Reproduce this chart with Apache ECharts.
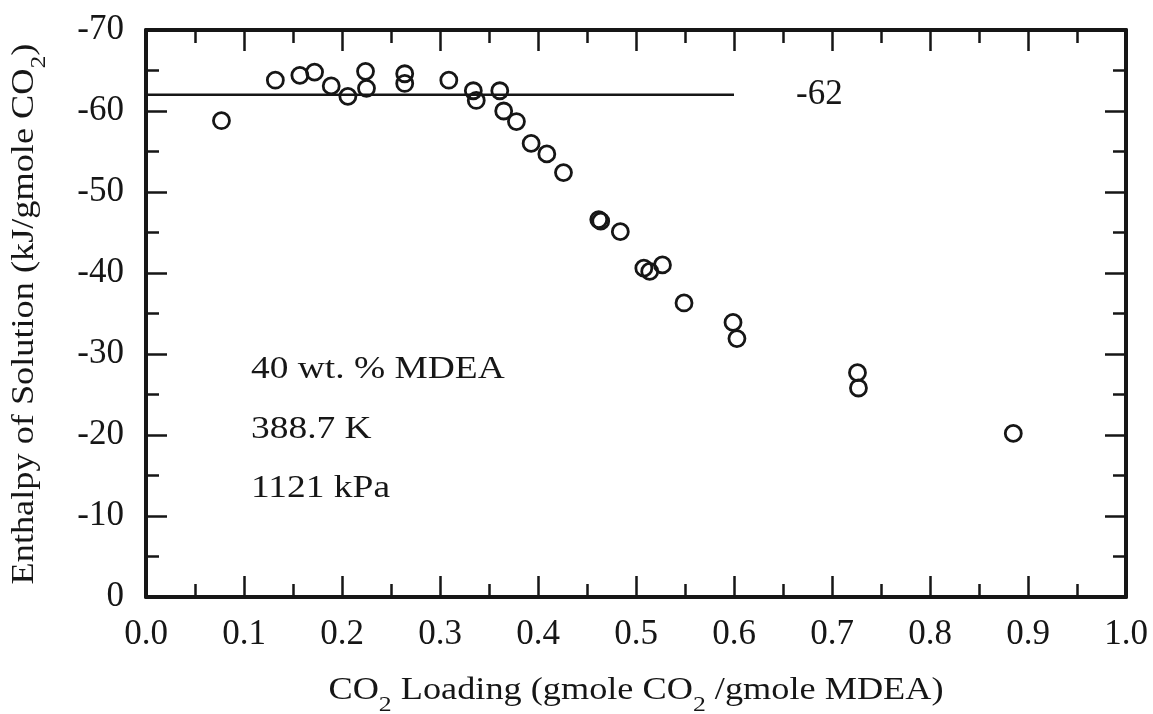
<!DOCTYPE html>
<html>
<head>
<meta charset="utf-8">
<script src="https://cdn.jsdelivr.net/npm/echarts@6/dist/echarts.min.js"></script>
<style>
  html, body { margin: 0; padding: 0; background: #fff; }
  #chart { width: 1153px; height: 714px; }
</style>
</head>
<body>
<div id="chart"></div>
<script>
// CO2 loading (gmole CO2 / gmole MDEA) for each measurement
const loading = [
  0.077, 0.132, 0.157, 0.172, 0.189, 0.206, 0.224, 0.225, 0.264, 0.264,
  0.309, 0.334, 0.337, 0.361, 0.365, 0.378, 0.393, 0.409, 0.426, 0.462,
  0.464, 0.484, 0.508, 0.514, 0.527, 0.549, 0.599, 0.603, 0.726, 0.727,
  0.885
];
// Enthalpy of solution (kJ/gmole CO2) for each measurement
const enthalpy = [
  -58.8, -63.8, -64.4, -64.8, -63.1, -61.8, -64.9, -62.8, -64.6, -63.4,
  -63.8, -62.5, -61.3, -62.5, -60.0, -58.7, -56.0, -54.7, -52.4, -46.6,
  -46.4, -45.1, -40.6, -40.2, -41.0, -36.3, -33.9, -31.9, -27.7, -25.8,
  -20.2
];
// Average enthalpy over the low-loading plateau
const plateauLoading = [0.0, 0.6];
const plateauEnthalpy = [-62, -62];
// Experimental conditions
const conditions = ['40 wt. % MDEA', '388.7 K', '1121 kPa'];

const FONT = 'Liberation Serif';
const INK = '#161616';
const TICK_SIZE = 35;
const TITLE_SIZE = 31;
const TEXT_STRETCH = 1.17;

const chart = echarts.init(document.getElementById('chart'), null, { renderer: 'canvas' });

const gridBox = { left: 146, right: 27, top: 30, bottom: 117 };

function axisCommon(extra) {
  return Object.assign({
    type: 'value',
    axisLine: { show: true, onZero: false, lineStyle: { color: INK, width: 4 } },
    axisTick: { show: true, inside: true, length: 21, lineStyle: { color: INK, width: 2.5 } },
    minorTick: { show: true, splitNumber: 2, length: 13, lineStyle: { color: INK, width: 2.5 } },
    splitLine: { show: false },
    minorSplitLine: { show: false }
  }, extra);
}

const xRange = { min: 0, max: 1, interval: 0.1 };
const yRange = { min: -70, max: 0, interval: 10, inverse: true };

const richTitle = {
  m: { fontFamily: FONT, fontSize: TITLE_SIZE, lineHeight: 34, verticalAlign: 'top', fill: INK },
  s: { fontFamily: FONT, fontSize: 22, lineHeight: 22, verticalAlign: 'top', padding: [19, 0, 0, 0], fill: INK }
};

const conditionY = [370, 430, 489];

const option = {
  animation: false,
  backgroundColor: '#ffffff',
  grid: Object.assign({ containLabel: false }, gridBox),
  xAxis: [
    axisCommon(Object.assign({
      position: 'bottom',
      axisLabel: {
        show: true, margin: 20, color: INK, fontFamily: FONT, fontSize: TICK_SIZE,
        formatter: v => v.toFixed(1)
      }
    }, xRange)),
    axisCommon(Object.assign({ position: 'top', axisLabel: { show: false } }, xRange))
  ],
  yAxis: [
    axisCommon(Object.assign({
      position: 'left',
      axisLabel: { show: true, margin: 22, color: INK, fontFamily: FONT, fontSize: TICK_SIZE }
    }, yRange)),
    axisCommon(Object.assign({ position: 'right', axisLabel: { show: false } }, yRange))
  ],
  series: [
    {
      name: 'plateau',
      type: 'line',
      xAxisIndex: 0,
      yAxisIndex: 0,
      data: plateauLoading.map((x, i) => [x, plateauEnthalpy[i]]),
      showSymbol: false,
      symbol: 'none',
      lineStyle: { color: INK, width: 2.5 },
      endLabel: {
        show: true,
        distance: 62,
        color: INK,
        fontFamily: FONT,
        fontSize: TICK_SIZE,
        formatter: p => String(p.value[1])
      },
      z: 2
    },
    {
      name: 'measured',
      type: 'scatter',
      xAxisIndex: 0,
      yAxisIndex: 0,
      data: loading.map((x, i) => [x, enthalpy[i]]),
      symbol: 'circle',
      symbolSize: 16,
      itemStyle: { color: 'rgba(0,0,0,0)', borderColor: INK, borderWidth: 2.8, opacity: 1 },
      z: 3
    }
  ],
  graphic: [
    {
      type: 'text',
      x: 26,
      y: 314,
      rotation: Math.PI / 2,
      scaleX: TEXT_STRETCH,
      style: {
        text: '{m|Enthalpy of Solution (kJ/gmole CO}{s|2}{m|)}',
        rich: richTitle,
        align: 'center',
        verticalAlign: 'middle',
        fill: INK
      }
    },
    {
      type: 'text',
      x: 636,
      y: 692,
      scaleX: TEXT_STRETCH,
      style: {
        text: '{m|CO}{s|2}{m| Loading (gmole CO}{s|2}{m| /gmole MDEA)}',
        rich: richTitle,
        align: 'center',
        verticalAlign: 'middle',
        fill: INK
      }
    }
  ].concat(conditions.map((t, i) => ({
    type: 'text',
    x: 251,
    y: conditionY[i],
    scaleX: TEXT_STRETCH,
    style: {
      text: t,
      fontFamily: FONT,
      fontSize: 32,
      align: 'left',
      verticalAlign: 'middle',
      fill: INK
    }
  })))
};

chart.setOption(option);
</script>
</body>
</html>
